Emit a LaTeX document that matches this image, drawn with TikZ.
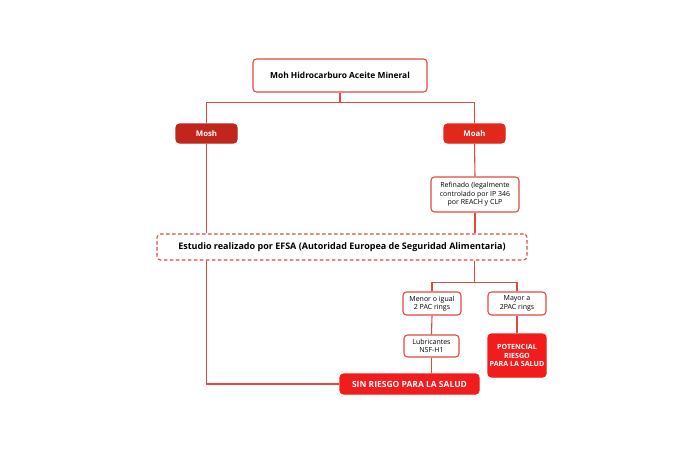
\documentclass[tikz,border=0pt]{standalone}
\usepackage{fontspec}
\setmainfont{Open Sans}
\begin{document}
\begin{tikzpicture}[x=1pt,y=-1pt,
  box/.style={draw=linered,line width=1.1pt,rounded corners=3.5pt,fill=white,inner sep=0pt,align=center,text=black},
  filledbox/.style={box,text=white,font=\fontsize{7}{8.5}\selectfont\bfseries},
  smallbox/.style={box,font=\fontsize{7.0}{8.6}\selectfont},
  conn/.style={draw=linered,line width=1.1pt}]
\definecolor{linered}{HTML}{E04A40}
\definecolor{darkred}{HTML}{C0261C}
\definecolor{midred}{HTML}{E2281A}
\definecolor{brightred}{HTML}{F21C1C}
\useasboundingbox (0,0) rectangle (680,453);
\fill[white] (0,0) rectangle (680,453);
\node[box,minimum width=174pt,minimum height=33pt,font=\fontsize{8.4}{10}\selectfont\bfseries] (top) at (340,75.5) {Moh Hidrocarburo Aceite Mineral};
\node[filledbox,fill=darkred,draw=darkred,minimum width=61pt,minimum height=19pt,font=\fontsize{7.8}{9}\selectfont\bfseries] (mosh) at (206.5,133.5) {Mosh};
\node[filledbox,fill=midred,draw=midred,minimum width=61pt,minimum height=19pt,font=\fontsize{7.8}{9}\selectfont\bfseries] (moah) at (474.5,133.5) {Moah};
\node[smallbox,minimum width=88pt,minimum height=35pt] (ref) at (475,194.5) {Refinado (legalmente\\controlado por IP 346\\por REACH y CLP};
\node[box,dashed,dash pattern=on 3.5pt off 2.5pt,minimum width=370pt,minimum height=26pt,font=\fontsize{9.0}{10.5}\selectfont\bfseries] (efsa) at (342,247) {Estudio realizado por EFSA (Autoridad Europea de Seguridad Alimentaria)};
\node[smallbox,minimum width=58pt,minimum height=23pt] (menor) at (432,303.5) {Menor o igual\\2 PAC rings};
\node[smallbox,minimum width=58pt,minimum height=23pt] (mayor) at (517,303.5) {Mayor a\\2PAC rings};
\node[smallbox,minimum width=55pt,minimum height=22pt] (lub) at (431.5,346) {Lubricantes\\NSF-H1};
\node[filledbox,fill=brightred,draw=brightred,minimum width=58pt,minimum height=43pt,font=\fontsize{7.1}{8.6}\selectfont\bfseries] (pot) at (517,355.5) {POTENCIAL\\RIESGO\\PARA LA SALUD};
\node[filledbox,fill=brightred,draw=brightred,minimum width=139pt,minimum height=20pt,font=\fontsize{8.5}{9.5}\selectfont\bfseries] (sin) at (409.5,384) {SIN RIESGO PARA LA SALUD};
\draw[conn] (top.south) -- ++(0,9.5) -| (mosh.north);
\draw[conn] (top.south) -- ++(0,9.5) -| (moah.north);
\draw[conn] (mosh.south) -- (mosh.south |- efsa.north);
\draw[conn] (moah.south) -- (ref.north);
\draw[conn] (ref.south) -- (ref.south |- efsa.north);
\draw[conn] (mosh.south |- efsa.south) -- (mosh.south |- sin.west) -- (sin.west);
\draw[conn] (moah.south |- efsa.south) -- ++(0,21.5) -| (menor.north);
\draw[conn] (moah.south |- efsa.south) -- ++(0,21.5) -| (mayor.north);
\draw[conn] (menor.south) -- (lub.north);
\draw[conn] (lub.south) -- (lub.south |- sin.north);
\draw[conn] (mayor.south) -- (pot.north);
\end{tikzpicture}
\end{document}
